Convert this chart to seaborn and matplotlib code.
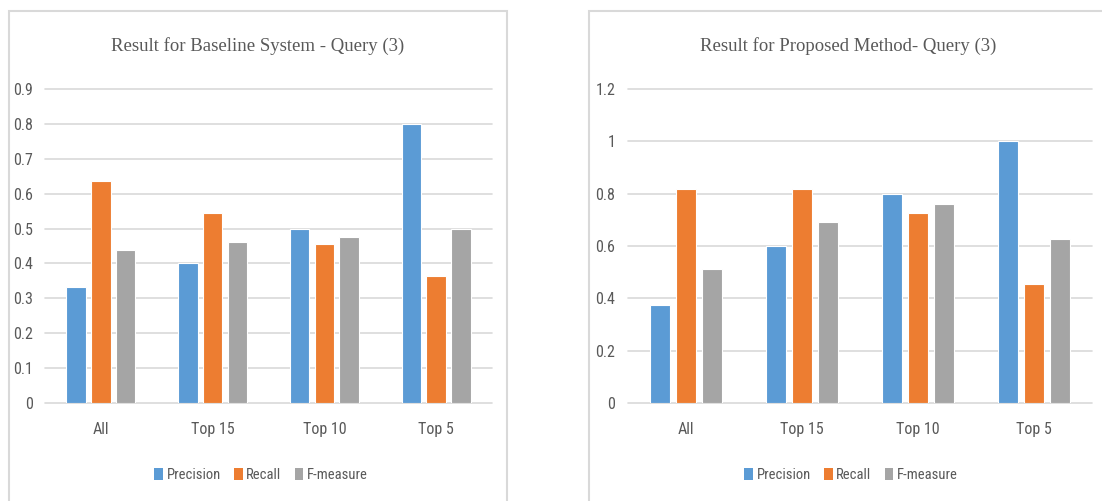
import matplotlib
matplotlib.use("Agg")
import matplotlib.pyplot as plt
from matplotlib.patches import Rectangle, Patch
import seaborn as sns
import pandas as pd

categories = ["All", "Top 15", "Top 10", "Top 5"]
metrics = ["Precision", "Recall", "F-measure"]

baseline_precision = [0.333, 0.4, 0.5, 0.8]
baseline_recall = [0.636, 0.545, 0.455, 0.364]
baseline_fmeasure = [0.438, 0.462, 0.476, 0.5]

proposed_precision = [0.375, 0.6, 0.8, 1.0]
proposed_recall = [0.818, 0.818, 0.727, 0.455]
proposed_fmeasure = [0.514, 0.692, 0.762, 0.625]

baseline_ticks = [0, 0.1, 0.2, 0.3, 0.4, 0.5, 0.6, 0.7, 0.8, 0.9]
baseline_ticklabels = ["0", "0.1", "0.2", "0.3", "0.4", "0.5", "0.6", "0.7", "0.8", "0.9"]
proposed_ticks = [0, 0.2, 0.4, 0.6, 0.8, 1.0, 1.2]
proposed_ticklabels = ["0", "0.2", "0.4", "0.6", "0.8", "1", "1.2"]

colors = ["#5B9BD5", "#ED7D31", "#A5A5A5"]
text_color = "#595959"
grid_color = "#D9D9D9"

sns.set_theme(style="white")
plt.rcParams["font.family"] = ["Roboto Condensed", "DejaVu Sans"]

W, H = 1102, 501
fig = plt.figure(figsize=(W / 100, H / 100), dpi=100)


def to_frame(p, r, f):
    rows = []
    for name, vals in zip(metrics, [p, r, f]):
        for c, v in zip(categories, vals):
            rows.append({"category": c, "metric": name, "value": v})
    return pd.DataFrame(rows)


def panel(rect_px, box_px, title, title_x, legend_x, df, ymax, ticks, ticklabels):
    x0, y0, x1, y1 = rect_px
    ax = fig.add_axes([x0 / W, 1 - y1 / H, (x1 - x0) / W, (y1 - y0) / H])
    sns.barplot(data=df, x="category", y="value", hue="metric",
                hue_order=metrics, order=categories, palette=colors,
                saturation=1, width=0.663, gap=0.21, edgecolor="white",
                linewidth=0.8, legend=False, ax=ax)
    ax.set_ylim(0, ymax)
    ax.set_xlim(-0.5, len(categories) - 0.5)
    ax.set_yticks(ticks)
    ax.set_yticklabels(ticklabels)
    ax.set_xlabel("")
    ax.set_ylabel("")
    for s in ax.spines.values():
        s.set_visible(False)
    for t in ticks:
        ax.axhline(t, color=grid_color, lw=1.2, zorder=0, clip_on=False)
    ax.tick_params(axis="y", length=0, pad=9, labelsize=11.5, labelcolor=text_color)
    ax.tick_params(axis="x", length=0, pad=14, labelsize=11.5, labelcolor=text_color)

    bx0, by0, bx1 = box_px
    fig.patches.append(Rectangle((bx0 / W, -0.05), (bx1 - bx0) / W, 1 - by0 / H + 0.05,
                                 transform=fig.transFigure, fill=False,
                                 edgecolor=grid_color, lw=1.5))
    fig.text(title_x / W, 1 - 46 / H, title, ha="center", va="center",
             fontsize=13.5, color=text_color,
             family=["Liberation Serif", "DejaVu Serif"])
    handles = [Patch(facecolor=c, edgecolor="none") for c in colors]
    fig.legend(handles, metrics, loc="center", bbox_to_anchor=(legend_x / W, 1 - 475 / H),
               ncol=3, frameon=False, fontsize=10.5, labelcolor=text_color,
               handlelength=0.6, handleheight=0.9, handletextpad=0.25,
               columnspacing=0.9)
    return ax


panel((45, 89, 492, 403), (9, 11, 507),
      "Result for Baseline System - Query (3)", 258, 261,
      to_frame(baseline_precision, baseline_recall, baseline_fmeasure),
      0.9, baseline_ticks, baseline_ticklabels)

panel((628, 89, 1092, 403), (589, 11, 1110),
      "Result for Proposed Method- Query (3)", 848, 851,
      to_frame(proposed_precision, proposed_recall, proposed_fmeasure),
      1.2, proposed_ticks, proposed_ticklabels)

fig.savefig("out.png", dpi=100, facecolor="white")
